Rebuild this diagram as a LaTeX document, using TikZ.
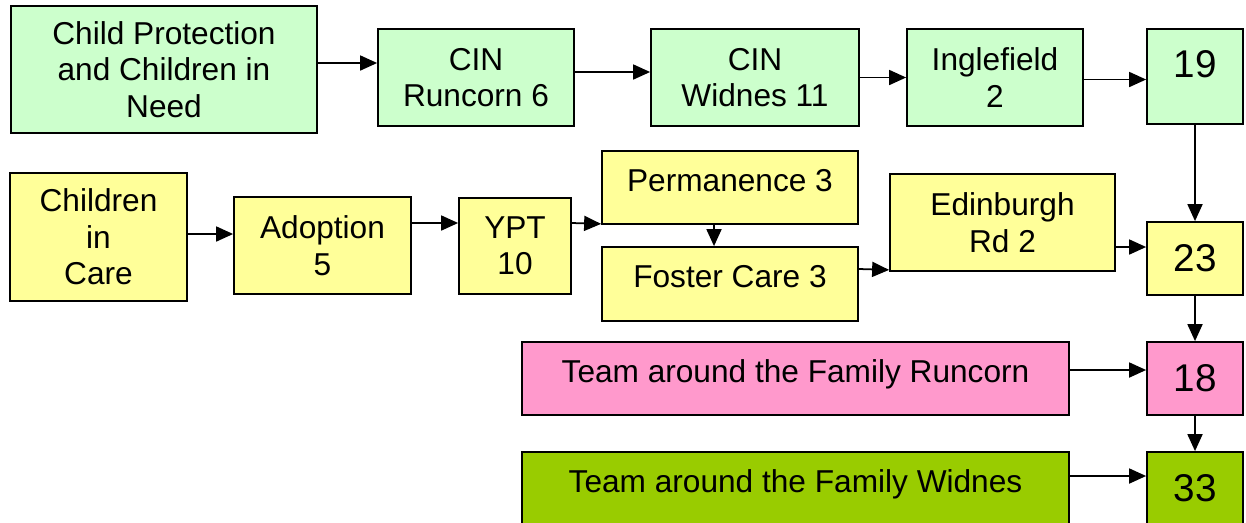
\documentclass[tikz,border=0pt]{standalone}
\usepackage{fontspec}
\setmainfont{Liberation Sans}
\usetikzlibrary{arrows.meta}
\definecolor{cingreen}{HTML}{CCFFCC}
\definecolor{lacyellow}{HTML}{FFFF99}
\definecolor{tafpink}{HTML}{FF99CC}
\definecolor{tafolive}{HTML}{99CC00}
\begin{document}
\begin{tikzpicture}
	\tikzstyle{Box} = [rectangle, draw, line width=1pt, inner sep=0pt, align=center, font=\fontsize{18}{20.7}\selectfont]
	\tikzstyle{Total} = [Box, minimum width=1.92cm, font=\fontsize{22}{25}\selectfont]
	\tikzstyle{Arrow} = [line width=1pt, -{Triangle[length=0.34cm, width=0.3cm]}]
	\useasboundingbox (0,0) rectangle (24.92,-10.44);
	\clip (0,0) rectangle (24.92,-10.44);
	% children in need row
	\node (cp) at (3.28,-1.39) [Box, fill=cingreen, minimum width=6.12cm, minimum height=2.54cm] {Child Protection\\and Children in\\Need};
	\node (cinr) at (9.52,-1.55) [Box, fill=cingreen, minimum width=3.92cm, minimum height=1.94cm] {CIN\\Runcorn 6};
	\node (cinw) at (15.10,-1.55) [Box, fill=cingreen, minimum width=4.16cm, minimum height=1.94cm] {CIN\\Widnes 11};
	\node (ingle) at (19.90,-1.55) [Box, fill=cingreen, minimum width=3.52cm, minimum height=1.94cm] {Inglefield\\2};
	\node (t19) at (23.90,-1.53) [Total, fill=cingreen, minimum height=1.90cm, text depth=0.52cm] {19};
	% looked after children row
	\node (cic) at (1.97,-4.74) [Box, fill=lacyellow, minimum width=3.54cm, minimum height=2.56cm] {Children\\in\\Care};
	\node (adopt) at (6.45,-4.91) [Box, fill=lacyellow, minimum width=3.54cm, minimum height=1.94cm] {Adoption\\5};
	\node (ypt) at (10.30,-4.92) [Box, fill=lacyellow, minimum width=2.24cm, minimum height=1.92cm] {YPT\\10};
	\node (perm) at (14.60,-3.75) [Box, fill=lacyellow, minimum width=5.12cm, minimum height=1.46cm, text depth=0.3cm] {Permanence 3};
	\node (foster) at (14.60,-5.68) [Box, fill=lacyellow, minimum width=5.12cm, minimum height=1.48cm, text depth=0.3cm] {Foster Care 3};
	\node (edin) at (20.05,-4.45) [Box, fill=lacyellow, minimum width=4.50cm, minimum height=1.94cm] {Edinburgh\\Rd 2};
	\node (t23) at (23.90,-5.17) [Total, fill=lacyellow, minimum height=1.46cm] {23};
	% team around the family rows
	\node (tafr) at (15.91,-7.57) [Box, fill=tafpink, minimum width=10.94cm, minimum height=1.46cm, text depth=0.3cm] {Team around the Family Runcorn};
	\node (t18) at (23.90,-7.57) [Total, fill=tafpink, minimum height=1.46cm] {18};
	\node (tafw) at (15.91,-9.77) [Box, fill=tafolive, minimum width=10.94cm, minimum height=1.46cm, text depth=0.3cm] {Team around the Family Widnes};
	\node (t33) at (23.90,-9.77) [Total, fill=tafolive, minimum height=1.46cm] {33};
	% arrows
	\draw [Arrow] ([yshift=0.13cm]cp.east) to ([yshift=0.29cm]cinr.west);
	\draw [Arrow] ([yshift=0.11cm]cinr.east) to ([yshift=0.11cm]cinw.west);
	\draw [Arrow] (cinw.east) to (cinw.east -| ingle.west);
	\draw [Arrow] ([yshift=-0.04cm]ingle.east) to ([yshift=-0.04cm]ingle.east -| t19.west);
	\draw [Arrow] (t19.south) to (t23.north);
	\draw [Arrow] ([yshift=0.06cm]cic.east) to ([yshift=0.23cm]adopt.west);
	\draw [Arrow] ([yshift=0.45cm]adopt.east) to ([yshift=0.46cm]ypt.west);
	\draw [Arrow] ([yshift=0.46cm]ypt.east) to ([yshift=0.02cm]perm.south west);
	\draw [Arrow] ([xshift=-0.32cm]perm.south) to ([xshift=-0.32cm]foster.north);
	\draw [Arrow] ([yshift=0.30cm]foster.east) to ([yshift=0.04cm]edin.south west);
	\draw [Arrow] ([yshift=-0.49cm]edin.east) to ([yshift=0.23cm]t23.west);
	\draw [Arrow] (t23.south) to (t18.north);
	\draw [Arrow] ([yshift=0.17cm]tafr.east) to ([yshift=0.17cm]t18.west);
	\draw [Arrow] (t18.south) to (t33.north);
	\draw [Arrow] ([yshift=0.25cm]tafw.east) to ([yshift=0.25cm]t33.west);
\end{tikzpicture}
\end{document}
